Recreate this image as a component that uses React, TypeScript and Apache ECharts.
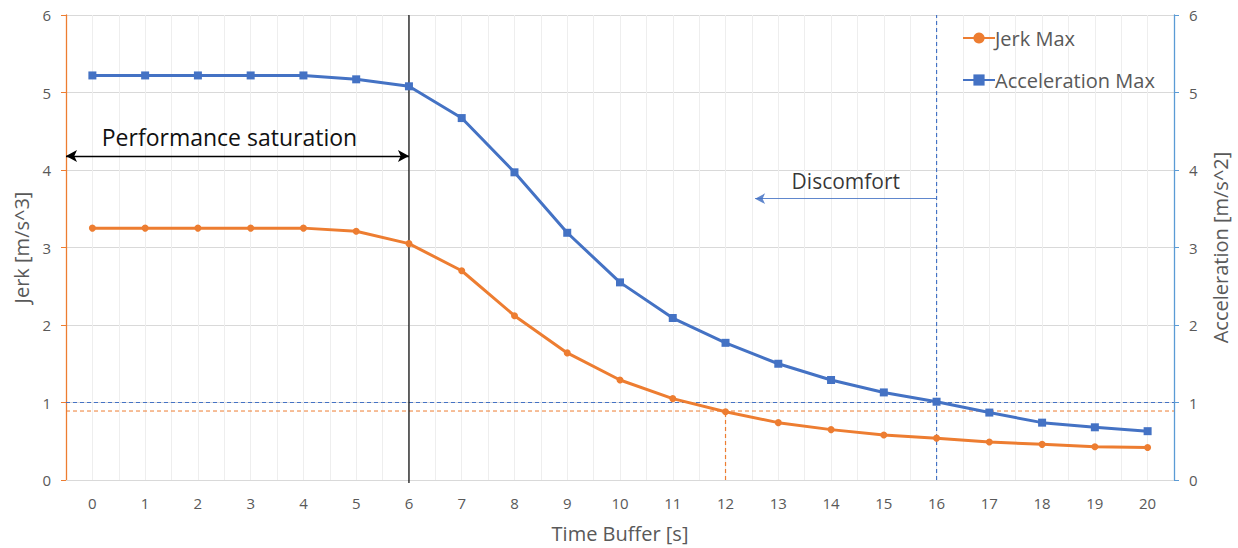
import React, { useEffect, useRef } from "react";
import * as echarts from "echarts";

const timeBuffer = [0, 1, 2, 3, 4, 5, 6, 7, 8, 9, 10, 11, 12, 13, 14, 15, 16, 17, 18, 19, 20];
const jerkMax = [3.25, 3.25, 3.25, 3.25, 3.25, 3.21, 3.05, 2.7, 2.12, 1.64, 1.29, 1.05, 0.88, 0.74, 0.65, 0.58, 0.54, 0.49, 0.46, 0.43, 0.42];
const accelMax = [5.22, 5.22, 5.22, 5.22, 5.22, 5.17, 5.08, 4.67, 3.97, 3.19, 2.55, 2.09, 1.77, 1.5, 1.29, 1.13, 1.01, 0.87, 0.74, 0.68, 0.63];
const yTicks = [0, 1, 2, 3, 4, 5, 6];

const jerkThreshold = 0.89;
const accelThreshold = 1.0;
const jerkThresholdTime = 12;
const accelThresholdTime = 16;
const saturationTime = 6;
const saturationLevel = 4.18;
const discomfortLevel = 3.63;
const discomfortArrowEnd = 12.56;

const ORANGE = "#ED7D31";
const BLUE = "#4472C4";
const AXIS_BLUE = "#5B9BD5";
const GRAY = "#595959";
const FONT = "'Open Sans', sans-serif";

export default function App() {
  const ref = useRef<HTMLDivElement>(null);
  useEffect(() => {
    if (!ref.current) return;
    const chart = echarts.init(ref.current, null, { renderer: "svg" });
    const xMin = timeBuffer[0] - 0.5;
    const xMax = timeBuffer[timeBuffer.length - 1] + 0.5;
    const yMin = yTicks[0];
    const yMax = yTicks[yTicks.length - 1];
    chart.setOption({
      animation: false,
      backgroundColor: "#ffffff",
      textStyle: { fontFamily: FONT },
      grid: { left: 66, right: 64, top: 15, bottom: 62, containLabel: false },
      legend: {
        orient: "vertical",
        left: 957,
        top: 23,
        itemWidth: 32,
        itemHeight: 14,
        itemGap: 22,
        textStyle: { fontSize: 20, color: GRAY, fontFamily: FONT, padding: [0, 0, 0, -5] },
        data: ["Jerk Max", "Acceleration Max"],
      },
      xAxis: {
        type: "value",
        min: xMin,
        max: xMax,
        interval: 0.5,
        name: "Time Buffer [s]",
        nameLocation: "middle",
        nameGap: 43,
        nameTextStyle: { fontSize: 20, color: GRAY, fontFamily: FONT },
        axisLine: { show: true, onZero: false, lineStyle: { color: "#d9d9d9", width: 1 } },
        axisTick: { show: false },
        axisLabel: {
          margin: 15,
          fontSize: 15,
          color: GRAY,
          fontFamily: FONT,
          formatter: (v: number) => (timeBuffer.includes(v) ? String(v) : ""),
          showMinLabel: true,
          showMaxLabel: true,
        },
        splitLine: { show: true, lineStyle: { color: "#eeeeee", width: 1 } },
      },
      yAxis: [
        {
          type: "value",
          min: yMin,
          max: yMax,
          interval: 1,
          name: "Jerk [m/s^3]",
          nameLocation: "middle",
          nameGap: 34,
          nameTextStyle: { fontSize: 20, color: GRAY, fontFamily: FONT },
          axisLine: { show: true, onZero: false, lineStyle: { color: ORANGE, width: 1.3 } },
          axisTick: { show: true, length: 5, lineStyle: { color: ORANGE } },
          axisLabel: { margin: 15, fontSize: 15, color: GRAY, fontFamily: FONT },
          splitLine: { show: true, lineStyle: { color: "#d9d9d9", width: 1 } },
        },
        {
          type: "value",
          min: yMin,
          max: yMax,
          interval: 1,
          position: "right",
          name: "Acceleration [m/s^2]",
          nameLocation: "middle",
          nameGap: 36,
          nameTextStyle: { fontSize: 20, color: GRAY, fontFamily: FONT },
          axisLine: { show: true, onZero: false, lineStyle: { color: AXIS_BLUE, width: 1.3 } },
          axisTick: { show: true, length: 5, lineStyle: { color: AXIS_BLUE } },
          axisLabel: { margin: 15, fontSize: 15, color: GRAY, fontFamily: FONT },
          splitLine: { show: false },
        },
      ],
      series: [
        {
          name: "ref-accel-h",
          type: "line",
          yAxisIndex: 0,
          silent: true,
          symbol: "none",
          data: [[xMin, accelThreshold], [xMax, accelThreshold]],
          lineStyle: { color: BLUE, width: 1, type: [4, 3] },
          z: 1,
        },
        {
          name: "ref-jerk-h",
          type: "line",
          yAxisIndex: 0,
          silent: true,
          symbol: "none",
          data: [[xMin, jerkThreshold], [xMax, jerkThreshold]],
          lineStyle: { color: ORANGE, width: 1, type: [4, 3] },
          z: 1,
        },
        {
          name: "ref-jerk-v",
          type: "line",
          yAxisIndex: 0,
          silent: true,
          symbol: "none",
          data: [[jerkThresholdTime, yMin], [jerkThresholdTime, jerkThreshold]],
          lineStyle: { color: ORANGE, width: 1.2, type: [4, 3] },
          z: 1,
        },
        {
          name: "ref-accel-v",
          type: "line",
          yAxisIndex: 0,
          silent: true,
          symbol: "none",
          data: [[accelThresholdTime, yMin], [accelThresholdTime, yMax]],
          lineStyle: { color: BLUE, width: 1.2, type: [4, 3] },
          z: 1,
          markLine: {
            silent: true,
            symbol: ["none", "arrow"],
            symbolSize: [8, 10],
            lineStyle: { color: BLUE, width: 1.2, type: "solid", opacity: 0.85 },
            label: {
              show: true,
              position: "middle",
              formatter: "Discomfort",
              fontSize: 21,
              color: "#111111",
              fontFamily: FONT,
              distance: 7,
            },
            data: [[{ coord: [accelThresholdTime, discomfortLevel] }, { coord: [discomfortArrowEnd, discomfortLevel] }]],
          },
        },
        {
          name: "ref-saturation",
          type: "line",
          yAxisIndex: 0,
          silent: true,
          symbol: "none",
          clip: false,
          data: [[saturationTime, yMin - 0.04], [saturationTime, yMax]],
          lineStyle: { color: "#000000", width: 1.2, type: "solid" },
          z: 1,
          markLine: {
            silent: true,
            symbol: ["arrow", "arrow"],
            symbolSize: [9, 11],
            lineStyle: { color: "#000000", width: 1.3, type: "solid" },
            label: {
              show: true,
              position: "middle",
              formatter: "Performance saturation",
              fontSize: 23,
              color: "#111111",
              fontFamily: FONT,
              distance: 8,
              offset: [-8, 0],
            },
            data: [[{ coord: [xMin, saturationLevel] }, { coord: [saturationTime, saturationLevel] }]],
          },
        },
        {
          name: "Jerk Max",
          type: "line",
          yAxisIndex: 0,
          data: timeBuffer.map((t, i) => [t, jerkMax[i]]),
          symbol: "circle",
          symbolSize: 7,
          itemStyle: { color: ORANGE },
          lineStyle: { color: ORANGE, width: 3 },
          z: 3,
        },
        {
          name: "Acceleration Max",
          type: "line",
          yAxisIndex: 1,
          data: timeBuffer.map((t, i) => [t, accelMax[i]]),
          symbol: "rect",
          symbolSize: 8,
          itemStyle: { color: BLUE },
          lineStyle: { color: BLUE, width: 3 },
          z: 3,
        },
      ],
    });
    return () => chart.dispose();
  }, []);
  return <div ref={ref} style={{ width: 1238, height: 548, position: "absolute", left: 0, top: 0 }} />;
}
